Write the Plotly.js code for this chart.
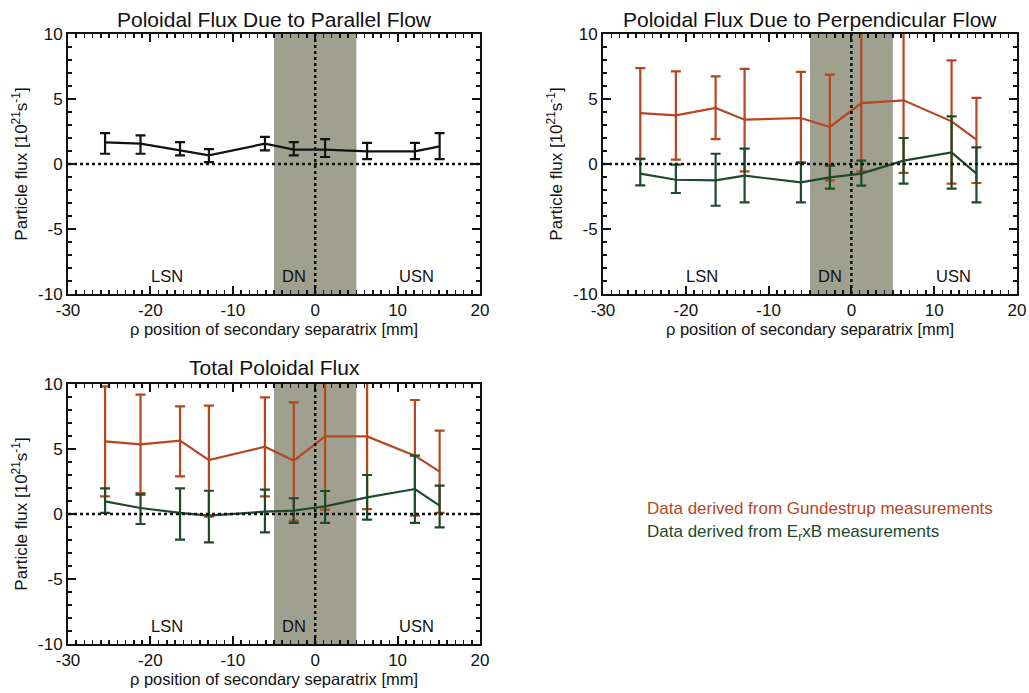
<!DOCTYPE html>
<html>
<head>
<meta charset="utf-8">
<script src="https://cdn.plot.ly/plotly-3.0.1.min.js"></script>
<style>html,body{margin:0;padding:0;background:#fff}#chart{width:1029px;height:693px}</style>
</head>
<body>
<div id="chart"></div>
<script>
// ---- data ----
const xPos = [-25.5, -21.2, -16.4, -12.9, -6.1, -2.6, 1.2, 6.3, 12.1, 15.1];

// Panel 1: parallel flow
const parY  = [1.67, 1.56, 1.05, 0.67, 1.56, 1.10, 1.10, 0.97, 0.97, 1.36];
const parHi = [2.38, 2.20, 1.69, 1.15, 2.08, 1.69, 1.92, 1.62, 1.62, 2.38];
const parLo = [0.79, 0.79, 0.67, 0.15, 1.05, 0.67, 0.54, 0.38, 0.38, 0.38];

// Panel 2: perpendicular flow
const perpGY  = [3.92, 3.74, 4.31, 3.41, 3.54, 2.85, 4.69, 4.90, 3.28, 1.87];
const perpGHi = [7.38, 7.13, 6.74, 7.31, 7.08, 6.87, 11.5, 11.5, 7.97, 5.08];
const perpGLo = [0.41, 0.33, 1.92, -0.56, 0.13, -1.26, -0.56, -0.69, -1.51, -1.46];
const perpEY  = [-0.74, -1.21, -1.26, -0.90, -1.41, -1.03, -0.74, 0.26, 0.90, -0.74];
const perpEHi = [0.38, -0.05, 0.79, 1.18, 0.08, -0.13, 0.26, 2.00, 3.67, 1.28];
const perpELo = [-1.64, -2.23, -3.21, -2.95, -2.95, -1.90, -1.67, -1.51, -1.90, -2.95];

// Panel 3: total flux
const totGY  = [5.59, 5.36, 5.64, 4.15, 5.18, 4.10, 5.97, 5.97, 4.49, 3.26];
const totGHi = [9.82, 9.18, 8.28, 8.33, 8.97, 8.59, 11.5, 11.5, 8.77, 6.41];
const totGLo = [1.36, 1.60, 2.90, -0.20, 1.36, -0.51, 0.33, 0.38, -0.13, 0.08];
const totEY  = [0.97, 0.46, 0.08, -0.13, 0.18, 0.26, 0.59, 1.28, 1.92, 0.64];
const totEHi = [1.97, 1.49, 1.97, 1.79, 1.87, 1.21, 1.77, 3.00, 4.49, 2.18];
const totELo = [0.08, -0.77, -1.97, -2.18, -1.41, -0.69, -0.69, -0.44, -0.69, -1.03];

const xTickVals = [-30, -20, -10, 0, 10, 20];
const xTickText = ["-30", "-20", "-10", "0", "10", "20"];
const yTickVals = [-10, -5, 0, 5, 10];
const yTickText = ["-10", "-5", "0", "5", "10"];

const panelTitles = ["Poloidal Flux Due to Parallel Flow", "Poloidal Flux Due to Perpendicular Flow", "Total Poloidal Flux"];
const regionNames = ["LSN", "DN", "USN"];
const regionX = [-18, -2.6, 12.3];
const regionY = -8.6;
const dnBand = [-5, 5];
const legendTexts = ["Data derived from Gundestrup measurements", "Data derived from E<sub>r</sub>xB measurements"];
const xTitle = "\u03c1 position of secondary separatrix [mm]";
const yTitle = "Particle flux [10<sup>21</sup>s<sup>-1</sup>]";

// ---- styling ----
const BLACK = "#111111", ORANGE = "#b5461f", GREEN = "#1d4a2a";
const FONT = "Liberation Sans, Arial, sans-serif";

function series(y, hi, lo, color, xa, ya) {
  return {
    type: "scatter", mode: "lines", x: xPos, y: y, xaxis: xa, yaxis: ya,
    line: {color: color, width: 2.2},
    error_y: {type: "data", symmetric: false,
      array: hi.map((h, i) => h - y[i]),
      arrayminus: lo.map((l, i) => y[i] - l),
      color: color, thickness: 2.2, width: 5},
    showlegend: false, hoverinfo: "skip"
  };
}

const data = [
  series(parY, parHi, parLo, BLACK, "x", "y"),
  series(perpGY, perpGHi, perpGLo, ORANGE, "x2", "y2"),
  series(perpEY, perpEHi, perpELo, GREEN, "x2", "y2"),
  series(totGY, totGHi, totGLo, ORANGE, "x3", "y3"),
  series(totEY, totEHi, totELo, GREEN, "x3", "y3")
];

const W = 1029, H = 693;
function xdom(l, r) { return [l / W, r / W]; }
function ydom(t, b) { return [(H - b) / H, (H - t) / H]; }

function xaxis(dom, anchor) {
  return {
    domain: dom, anchor: anchor, range: [-30, 20],
    tickmode: "array", tickvals: xTickVals, ticktext: xTickText,
    ticks: "inside", ticklen: 8, tickwidth: 2, tickcolor: BLACK,
    minor: {tickmode: "linear", tick0: -30, dtick: 1, ticks: "inside", ticklen: 4, tickwidth: 1.5, tickcolor: BLACK, showgrid: false},
    showline: true, linecolor: BLACK, linewidth: 2, mirror: "allticks",
    showgrid: false, zeroline: false,
    tickfont: {family: FONT, size: 17, color: BLACK},
    title: {text: xTitle, font: {family: FONT, size: 16.5, color: BLACK}, standoff: 3}
  };
}
function yaxis(dom, anchor) {
  return {
    domain: dom, anchor: anchor, range: [-10, 10],
    tickmode: "array", tickvals: yTickVals, ticktext: yTickText,
    ticks: "inside", ticklen: 8, tickwidth: 2, tickcolor: BLACK,
    minor: {tickmode: "linear", tick0: -10, dtick: 1, ticks: "inside", ticklen: 4, tickwidth: 1.5, tickcolor: BLACK, showgrid: false},
    showline: true, linecolor: BLACK, linewidth: 2, mirror: "allticks",
    showgrid: false, zeroline: false,
    tickfont: {family: FONT, size: 17, color: BLACK},
    title: {text: yTitle, font: {family: FONT, size: 17, color: BLACK}, standoff: 6}
  };
}

const panels = [
  {xa: "x", ya: "y", xd: xdom(68, 480), yd: ydom(34, 294), titleY: 19},
  {xa: "x2", ya: "y2", xd: xdom(603, 1017), yd: ydom(34, 294), titleY: 19},
  {xa: "x3", ya: "y3", xd: xdom(68, 480), yd: ydom(384, 644), titleY: 368}
];

const shapes = [], annotations = [];
panels.forEach((p, i) => {
  shapes.push({type: "rect", xref: p.xa, yref: p.ya + " domain", x0: dnBand[0], x1: dnBand[1], y0: 0, y1: 1,
    fillcolor: "rgb(160,160,144)", line: {width: 0}, layer: "below"});
  shapes.push({type: "line", xref: p.xa + " domain", yref: p.ya, x0: 0, x1: 1, y0: 0, y1: 0,
    line: {color: BLACK, width: 2.5, dash: "dot"}});
  shapes.push({type: "line", xref: p.xa, yref: p.ya + " domain", x0: 0, x1: 0, y0: 0, y1: 1,
    line: {color: BLACK, width: 2.5, dash: "dot"}});
  regionNames.forEach((n, k) => {
    annotations.push({xref: p.xa, yref: p.ya, x: regionX[k], y: regionY, text: n, showarrow: false,
      font: {family: FONT, size: 16.5, color: BLACK}});
  });
  annotations.push({xref: "paper", yref: "paper", x: (p.xd[0] + p.xd[1]) / 2, y: (H - p.titleY) / H,
    text: panelTitles[i], showarrow: false, xanchor: "center", yanchor: "middle",
    font: {family: FONT, size: 21, color: BLACK}});
});
annotations.push({xref: "paper", yref: "paper", x: 645 / W, y: (H - 508) / H, xanchor: "left", yanchor: "middle",
  text: legendTexts[0], showarrow: false, font: {family: FONT, size: 17, color: ORANGE}});
annotations.push({xref: "paper", yref: "paper", x: 645 / W, y: (H - 533) / H, xanchor: "left", yanchor: "middle",
  text: legendTexts[1], showarrow: false, font: {family: FONT, size: 17, color: GREEN}});

const layout = {
  width: W, height: H, margin: {l: 0, r: 0, t: 0, b: 0},
  paper_bgcolor: "#ffffff", plot_bgcolor: "rgba(0,0,0,0)",
  showlegend: false,
  xaxis: xaxis(panels[0].xd, "y"), yaxis: yaxis(panels[0].yd, "x"),
  xaxis2: xaxis(panels[1].xd, "y2"), yaxis2: yaxis(panels[1].yd, "x2"),
  xaxis3: xaxis(panels[2].xd, "y3"), yaxis3: yaxis(panels[2].yd, "x3"),
  shapes: shapes, annotations: annotations
};

Plotly.newPlot("chart", data, layout, {displayModeBar: false, staticPlot: true});
</script>
</body>
</html>
